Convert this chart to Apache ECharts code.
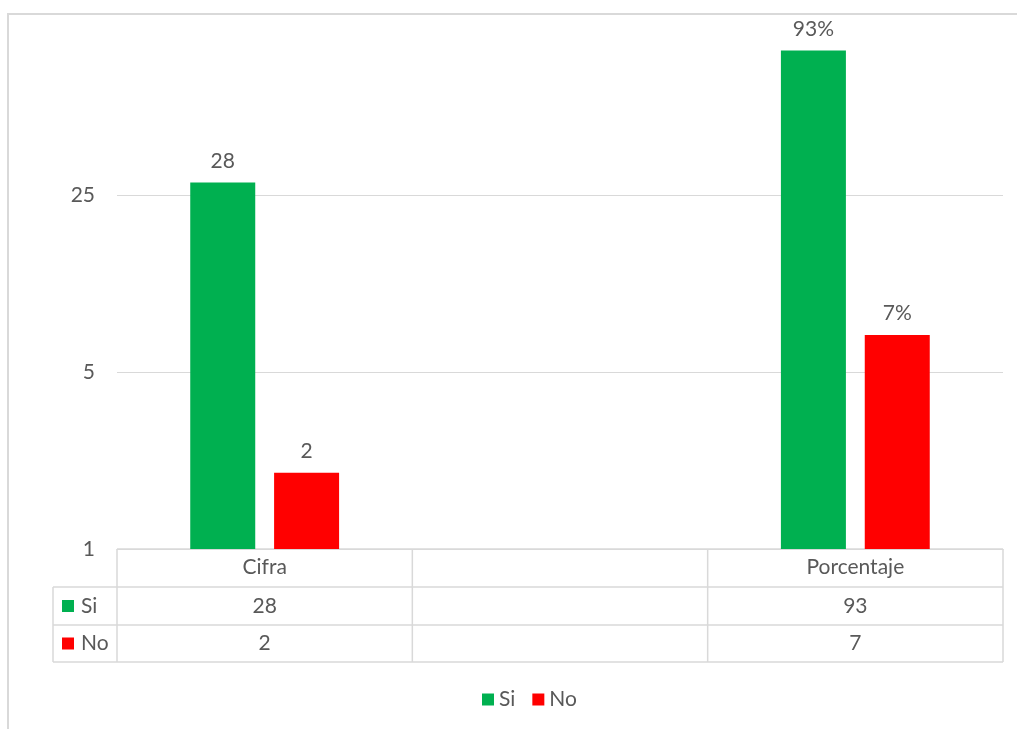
<!DOCTYPE html>
<html>
<head>
<meta charset="utf-8">
<script src="https://cdn.jsdelivr.net/npm/echarts@6/dist/echarts.min.js"></script>
<style>
  html, body { margin: 0; padding: 0; background: #fff; }
  #chart { width: 1017px; height: 729px; }
</style>
</head>
<body>
<div id="chart"></div>
<script>
// Categories and values (log-5 value axis, with a data table underneath)
const categories = ['Cifra', '', 'Porcentaje'];
const seriesNames = ['Si', 'No'];
const siValues = [28, null, 93];
const noValues = [2, null, 7];
const percentCategory = 'Porcentaje';
const yTickMax = 125;

const GREEN = '#00B050';
const RED = '#FF0000';
const TEXT = '#595959';
const LINE = '#d9d9d9';
const FONT = 'Lato, "Noto Sans", sans-serif';
const FS = 21;

const GRID = { left: 117, right: 14, top: 18, bottom: 180 };
const W = 1017, H = 729;

const chart = echarts.init(document.getElementById('chart'), null, { renderer: 'canvas' });

function labelFmt(p) {
  if (p.value == null) return '';
  return p.name === percentCategory ? p.value + '%' : String(p.value);
}

const option = {
  backgroundColor: '#fff',
  animation: false,
  textStyle: { fontFamily: FONT },
  grid: GRID,
  legend: {
    data: seriesNames,
    left: 477,
    top: 684,
    itemWidth: 12,
    itemHeight: 12,
    itemGap: 17,
    icon: 'rect',
    textStyle: { color: TEXT, fontSize: FS, fontFamily: FONT, padding: [0, 0, 0, 0] }
  },
  xAxis: {
    type: 'category',
    data: categories,
    axisLine: { show: true, lineStyle: { color: LINE, width: 1 } },
    axisTick: { show: false },
    axisLabel: { show: true, color: TEXT, fontSize: FS, fontFamily: FONT, margin: 8, interval: 0 },
    splitLine: { show: false }
  },
  yAxis: {
    type: 'log',
    logBase: 5,
    min: 1,
    max: yTickMax,
    splitNumber: 3,
    axisLine: { show: false },
    axisTick: { show: false },
    axisLabel: {
      color: TEXT, fontSize: FS, fontFamily: FONT, margin: 22,
      formatter: v => (v >= yTickMax ? '' : String(v))
    },
    splitLine: { show: true, lineStyle: { color: LINE, width: 1 } }
  },
  series: [
    {
      name: seriesNames[0],
      type: 'bar',
      data: siValues,
      barWidth: 65,
      barGap: '29%',
      itemStyle: { color: GREEN },
      label: { show: true, position: 'top', distance: 11, color: TEXT, fontSize: FS, fontFamily: FONT, formatter: labelFmt }
    },
    {
      name: seriesNames[1],
      type: 'bar',
      data: noValues,
      barWidth: 65,
      itemStyle: { color: RED },
      label: { show: true, position: 'top', distance: 11, color: TEXT, fontSize: FS, fontFamily: FONT, formatter: labelFmt }
    }
  ]
};

chart.setOption(option);

// Data table below the plot: header row comes from the axis labels,
// the value rows are built here from the same arrays.
function buildTable() {
  const x0 = GRID.left;
  const x1 = W - GRID.right;
  const yTop = H - GRID.bottom;
  const rowH = [38, 38, 37];
  const yHead = yTop + rowH[0];
  const ySi = yHead + rowH[1];
  const yNo = ySi + rowH[2];
  const keyLeft = 53;
  const band = (x1 - x0) / categories.length;

  const els = [];
  const line = (xa, ya, xb, yb) => els.push({
    type: 'line',
    shape: { x1: xa, y1: ya, x2: xb, y2: yb },
    style: { stroke: LINE, lineWidth: 1.5 },
    silent: true
  });

  // the value range ends at the plot top without a gridline there
  els.push({
    type: 'line',
    shape: { x1: x0 - 2, y1: GRID.top, x2: x1 + 2, y2: GRID.top },
    style: { stroke: '#fff', lineWidth: 3 },
    z: 50,
    silent: true
  });

  // outer chart frame
  els.push({
    type: 'rect',
    shape: { x: 8, y: 14, width: W, height: H },
    style: { fill: null, stroke: LINE, lineWidth: 2 },
    z: 60,
    silent: true
  });

  line(x0, yTop, x1, yTop);
  [yHead, ySi, yNo].forEach(y => line(keyLeft, y, x1, y));
  line(keyLeft, yHead, keyLeft, yNo);
  for (let i = 0; i <= categories.length; i++) {
    const x = x0 + band * i;
    line(x, yTop, x, yNo);
  }

  const rows = [
    { name: seriesNames[0], color: GREEN, values: siValues, y: (yHead + ySi) / 2 },
    { name: seriesNames[1], color: RED, values: noValues, y: (ySi + yNo) / 2 }
  ];
  rows.forEach(r => {
    els.push({
      type: 'rect',
      shape: { x: 62, y: r.y - 6, width: 12, height: 12 },
      style: { fill: r.color },
      silent: true
    });
    els.push({
      type: 'text',
      x: 81, y: r.y,
      style: { text: r.name, fill: TEXT, font: FS + 'px ' + FONT, verticalAlign: 'middle', align: 'left' },
      silent: true
    });
    r.values.forEach((v, i) => {
      if (v == null) return;
      const cx = chart.convertToPixel({ xAxisIndex: 0 }, i);
      els.push({
        type: 'text',
        x: cx, y: r.y,
        style: { text: String(v), fill: TEXT, font: FS + 'px ' + FONT, verticalAlign: 'middle', align: 'center' },
        silent: true
      });
    });
  });

  chart.setOption({ graphic: { elements: els } });
}

buildTable();
</script>
</body>
</html>
